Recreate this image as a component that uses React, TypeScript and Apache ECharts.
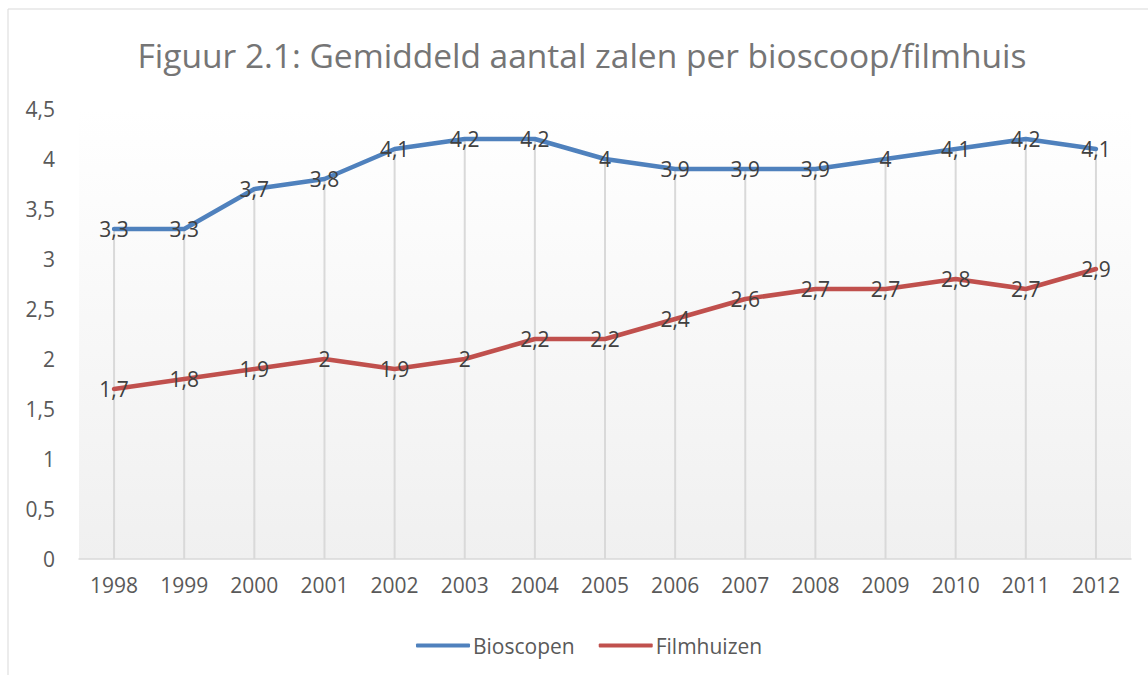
import React, { useEffect, useRef } from "react";
import * as echarts from "echarts";

const TITLE = "Figuur 2.1: Gemiddeld aantal zalen per bioscoop/filmhuis";
const years = ["1998", "1999", "2000", "2001", "2002", "2003", "2004", "2005", "2006", "2007", "2008", "2009", "2010", "2011", "2012"];
const bioscopen = [3.3, 3.3, 3.7, 3.8, 4.1, 4.2, 4.2, 4.0, 3.9, 3.9, 3.9, 4.0, 4.1, 4.2, 4.1];
const filmhuizen = [1.7, 1.8, 1.9, 2.0, 1.9, 2.0, 2.2, 2.2, 2.4, 2.6, 2.7, 2.7, 2.8, 2.7, 2.9];

const FONT = "'Open Sans', 'Noto Sans', sans-serif";
const fmt = (v: number) => String(v).replace(".", ",");

export default function App() {
  const ref = useRef<HTMLDivElement>(null);
  useEffect(() => {
    if (!ref.current) return;
    const chart = echarts.init(ref.current, null, { renderer: "svg" });
    const dropMax = bioscopen.map((b, i) => Math.max(b, filmhuizen[i]));
    const labelCfg = {
      show: true,
      position: "inside",
      formatter: (p: any) => fmt(p.value),
      color: "#404040",
      fontSize: 21,
      fontFamily: FONT,
    };
    chart.setOption({
      animation: false,
      backgroundColor: "#ffffff",
      textStyle: { fontFamily: FONT },
      title: {
        text: TITLE,
        left: 577,
        top: 33,
        textAlign: "center",
        textStyle: { fontFamily: FONT, fontSize: 33.5, fontWeight: "normal", color: "#757575" },
      },
      graphic: [
        {
          type: "rect",
          shape: { x: 8, y: 9, width: 1160, height: 700 },
          style: { fill: "none", stroke: "#d9d9d9", lineWidth: 1 },
          silent: true,
          z: -1,
        },
      ],
      legend: {
        data: [
          { name: "Bioscopen", itemStyle: { color: "#4f81bd" } },
          { name: "Filmhuizen", itemStyle: { color: "#c0504d" } },
        ],
        left: 411,
        top: 630,
        icon: "roundRect",
        itemWidth: 54,
        itemHeight: 4,
        itemGap: 24,
        textStyle: { fontFamily: FONT, fontSize: 21, color: "#595959", padding: [0, 0, 0, -2] },
      },
      grid: {
        left: 79,
        right: 17,
        top: 109,
        bottom: 116,
        show: true,
        borderWidth: 0,
        backgroundColor: new echarts.graphic.LinearGradient(0, 0, 0, 1, [
          { offset: 0, color: "#ffffff" },
          { offset: 1, color: "#f0f0f0" },
        ]),
      },
      xAxis: {
        type: "category",
        data: years,
        boundaryGap: true,
        axisLine: { lineStyle: { color: "#d9d9d9", width: 1.5 } },
        axisTick: { show: false },
        axisLabel: { color: "#595959", fontSize: 21, fontFamily: FONT, margin: 15 },
        splitLine: { show: false },
      },
      yAxis: {
        type: "value",
        min: 0,
        max: 4.5,
        interval: 0.5,
        axisLine: { show: false },
        axisTick: { show: false },
        splitLine: { show: false },
        axisLabel: { color: "#595959", fontSize: 21, fontFamily: FONT, margin: 24, formatter: (v: number) => fmt(v) },
      },
      series: [
        {
          name: "drop",
          type: "bar",
          data: dropMax,
          barWidth: 2,
          itemStyle: { color: "#d9d9d9" },
          silent: true,
          z: 1,
        },
        {
          name: "Bioscopen",
          type: "line",
          data: bioscopen,
          symbol: "circle",
          symbolSize: 2,
          showSymbol: true,
          lineStyle: { color: "#4f81bd", width: 4.5, cap: "round", join: "round" },
          itemStyle: { color: "#4f81bd" },
          label: labelCfg,
          z: 3,
        },
        {
          name: "Filmhuizen",
          type: "line",
          data: filmhuizen,
          symbol: "circle",
          symbolSize: 2,
          showSymbol: true,
          lineStyle: { color: "#c0504d", width: 4.5, cap: "round", join: "round" },
          itemStyle: { color: "#c0504d" },
          label: labelCfg,
          z: 3,
        },
      ],
    });
    return () => chart.dispose();
  }, []);
  return <div ref={ref} style={{ position: "fixed", left: 0, top: 0, width: 1148, height: 675 }} />;
}
